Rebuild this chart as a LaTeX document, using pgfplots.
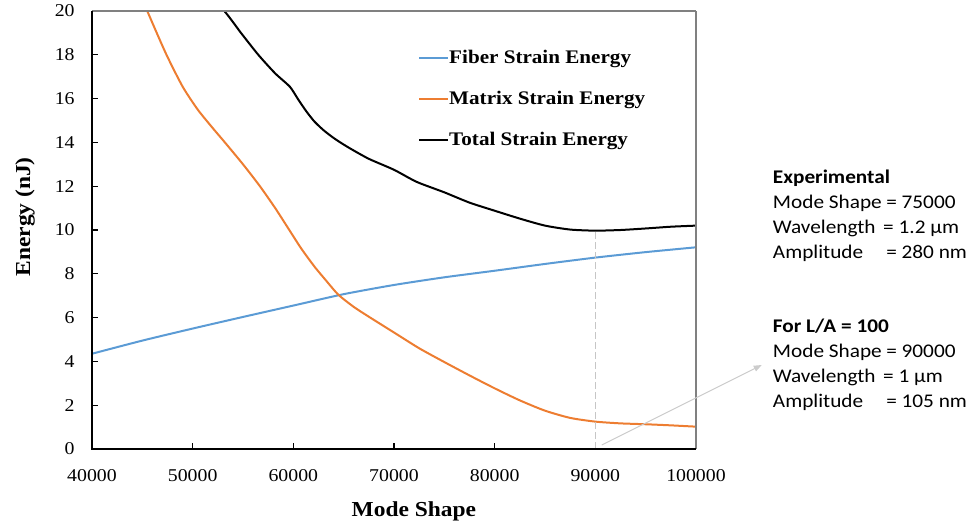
\documentclass[border=0pt]{standalone}
\usepackage{fontspec}
\setmainfont{Liberation Serif}[FakeStretch=1.1]
\newfontfamily\calibri{Carlito}[FakeStretch=1.1]
\usepackage{pgfplots}
\pgfplotsset{compat=1.18}
\usetikzlibrary{arrows.meta}
\definecolor{fiberblue}{HTML}{5B9BD5}
\definecolor{matrixorange}{HTML}{ED7D31}
\begin{document}
\begin{tikzpicture}
\path[use as bounding box] (0,0) rectangle (730.5pt,396.75pt);
\begin{axis}[
  name=ax,
  at={(69pt,60pt)}, anchor=south west,
  scale only axis, width=453pt, height=328.5pt,
  xmin=40000, xmax=100000, ymin=0, ymax=20,
  xtick={40000,50000,60000,70000,80000,90000,100000},
  xticklabels={40000,50000,60000,70000,80000,90000,100000},
  ytick={0,2,4,6,8,10,12,14,16,18,20},
  yticklabels={0,2,4,6,8,10,12,14,16,18,20},
  scaled x ticks=false,
  tick align=inside, tick pos=left, major tick length=4.5pt,
  tick style={black, line width=0.8pt},
  axis line style={draw=none},
  tick label style={font=\fontsize{13.5}{15}\selectfont},
  yticklabel style={xshift=-9.5pt},
  xticklabel style={yshift=-12pt},
  xlabel={\textbf{Mode Shape}},
  ylabel={\textbf{Energy (nJ)}},
  label style={font=\fontsize{16}{19}\selectfont},
  x label style={at={(axis description cs:0.533,-0.11)}, anchor=north},
  y label style={at={(axis description cs:-0.087,0.53)}, anchor=south},
  legend style={draw=none, fill=none, at={(axis description cs:0.5397,0.9163)}, anchor=north west,
    inner sep=0pt, row sep=15pt, column sep=0pt,
    nodes={inner xsep=0pt, inner ysep=2pt},
    font=\fontsize{14.4}{17}\selectfont\bfseries},
  legend cell align=left,
  legend image code/.code={\draw[#1, line width=1.5pt] (0pt,0pt) -- (21.75pt,0pt);},
]
\addplot[fiberblue, line width=1.5pt, smooth, tension=0.4] coordinates {
(40000,4.35) (45000,4.95) (50000,5.50) (55000,6.03) (60000,6.55) (65000,7.07)
(70000,7.49) (75000,7.84) (80000,8.14) (85000,8.45) (90000,8.74) (95000,8.99) (100000,9.21)};
\addlegendentry{Fiber Strain Energy}
\addplot[matrixorange, line width=1.5pt, smooth, tension=0.4] coordinates {
(44000,21.65) (45490,20.0) (47350,18.05) (49000,16.55) (50500,15.5) (52000,14.65)
(53200,14.0) (55000,13.0) (56680,12.0) (58200,11.0) (59600,10.0)
(60660,9.24) (61400,8.76) (62200,8.27) (63200,7.72) (64460,7.05) (66000,6.49)
(67500,6.04) (70000,5.32) (72500,4.6) (75000,3.97) (77500,3.36) (80000,2.77) (82500,2.22)
(85000,1.75) (87500,1.42) (90000,1.25) (92500,1.17) (95000,1.13) (97500,1.08) (100000,1.02)};
\addlegendentry{Matrix Strain Energy}
\addplot[black, line width=1.5pt, smooth, tension=0.4] coordinates {
(50000,21.5) (53140,20.0) (54800,19.0) (56520,18.0) (58200,17.15)
(59660,16.54) (60500,15.95) (61320,15.4) (62100,14.95) (62970,14.57) (63800,14.27) (64560,14.03)
(65620,13.73) (67500,13.25) (70000,12.75) (72240,12.2) (75000,11.72) (77500,11.25) (80000,10.88)
(82500,10.52) (85000,10.2) (87500,10.02) (90000,9.97) (92500,10.0) (95000,10.07) (97500,10.15)
(100000,10.2)};
\addlegendentry{Total Strain Energy}
\addplot[gray!45, line width=0.75pt, dash pattern=on 5pt off 2.5pt, forget plot] coordinates {(90000,0) (90000,9.97)};
\end{axis}
\draw[gray, line width=1pt] (ax.north west) -- (ax.north east);
\draw[gray, line width=2.2pt] (ax.south east) -- (ax.north east);
\draw[black, line width=1.2pt] (ax.north west) -- (ax.south west) -- (ax.south east);
\draw[gray!40, line width=0.75pt, -{Triangle[length=6pt,width=4.5pt]}] (451.3pt,63pt) -- (571.3pt,123pt);
\begin{scope}[every node/.style={anchor=base west, inner sep=0pt, font=\calibri\fontsize{14.5}{17}\selectfont}]
\node at (579.5pt,259.3pt) {\bfseries Experimental};
\node at (579.5pt,240.5pt) {Mode Shape};
\node at (664.5pt,240.5pt) {= 75000};
\node at (579.5pt,221.8pt) {Wavelength};
\node at (662.2pt,221.8pt) {= 1.2 µm};
\node at (579.5pt,203.0pt) {Amplitude};
\node at (664.5pt,203.0pt) {= 280 nm};
\node at (579.5pt,147.2pt) {\bfseries For L/A = 100};
\node at (579.5pt,128.5pt) {Mode Shape};
\node at (664.5pt,128.5pt) {= 90000};
\node at (579.5pt,109.7pt) {Wavelength};
\node at (662.2pt,109.7pt) {= 1 µm};
\node at (579.5pt,91.0pt) {Amplitude};
\node at (664.5pt,91.0pt) {= 105 nm};
\end{scope}
\end{tikzpicture}
\end{document}
